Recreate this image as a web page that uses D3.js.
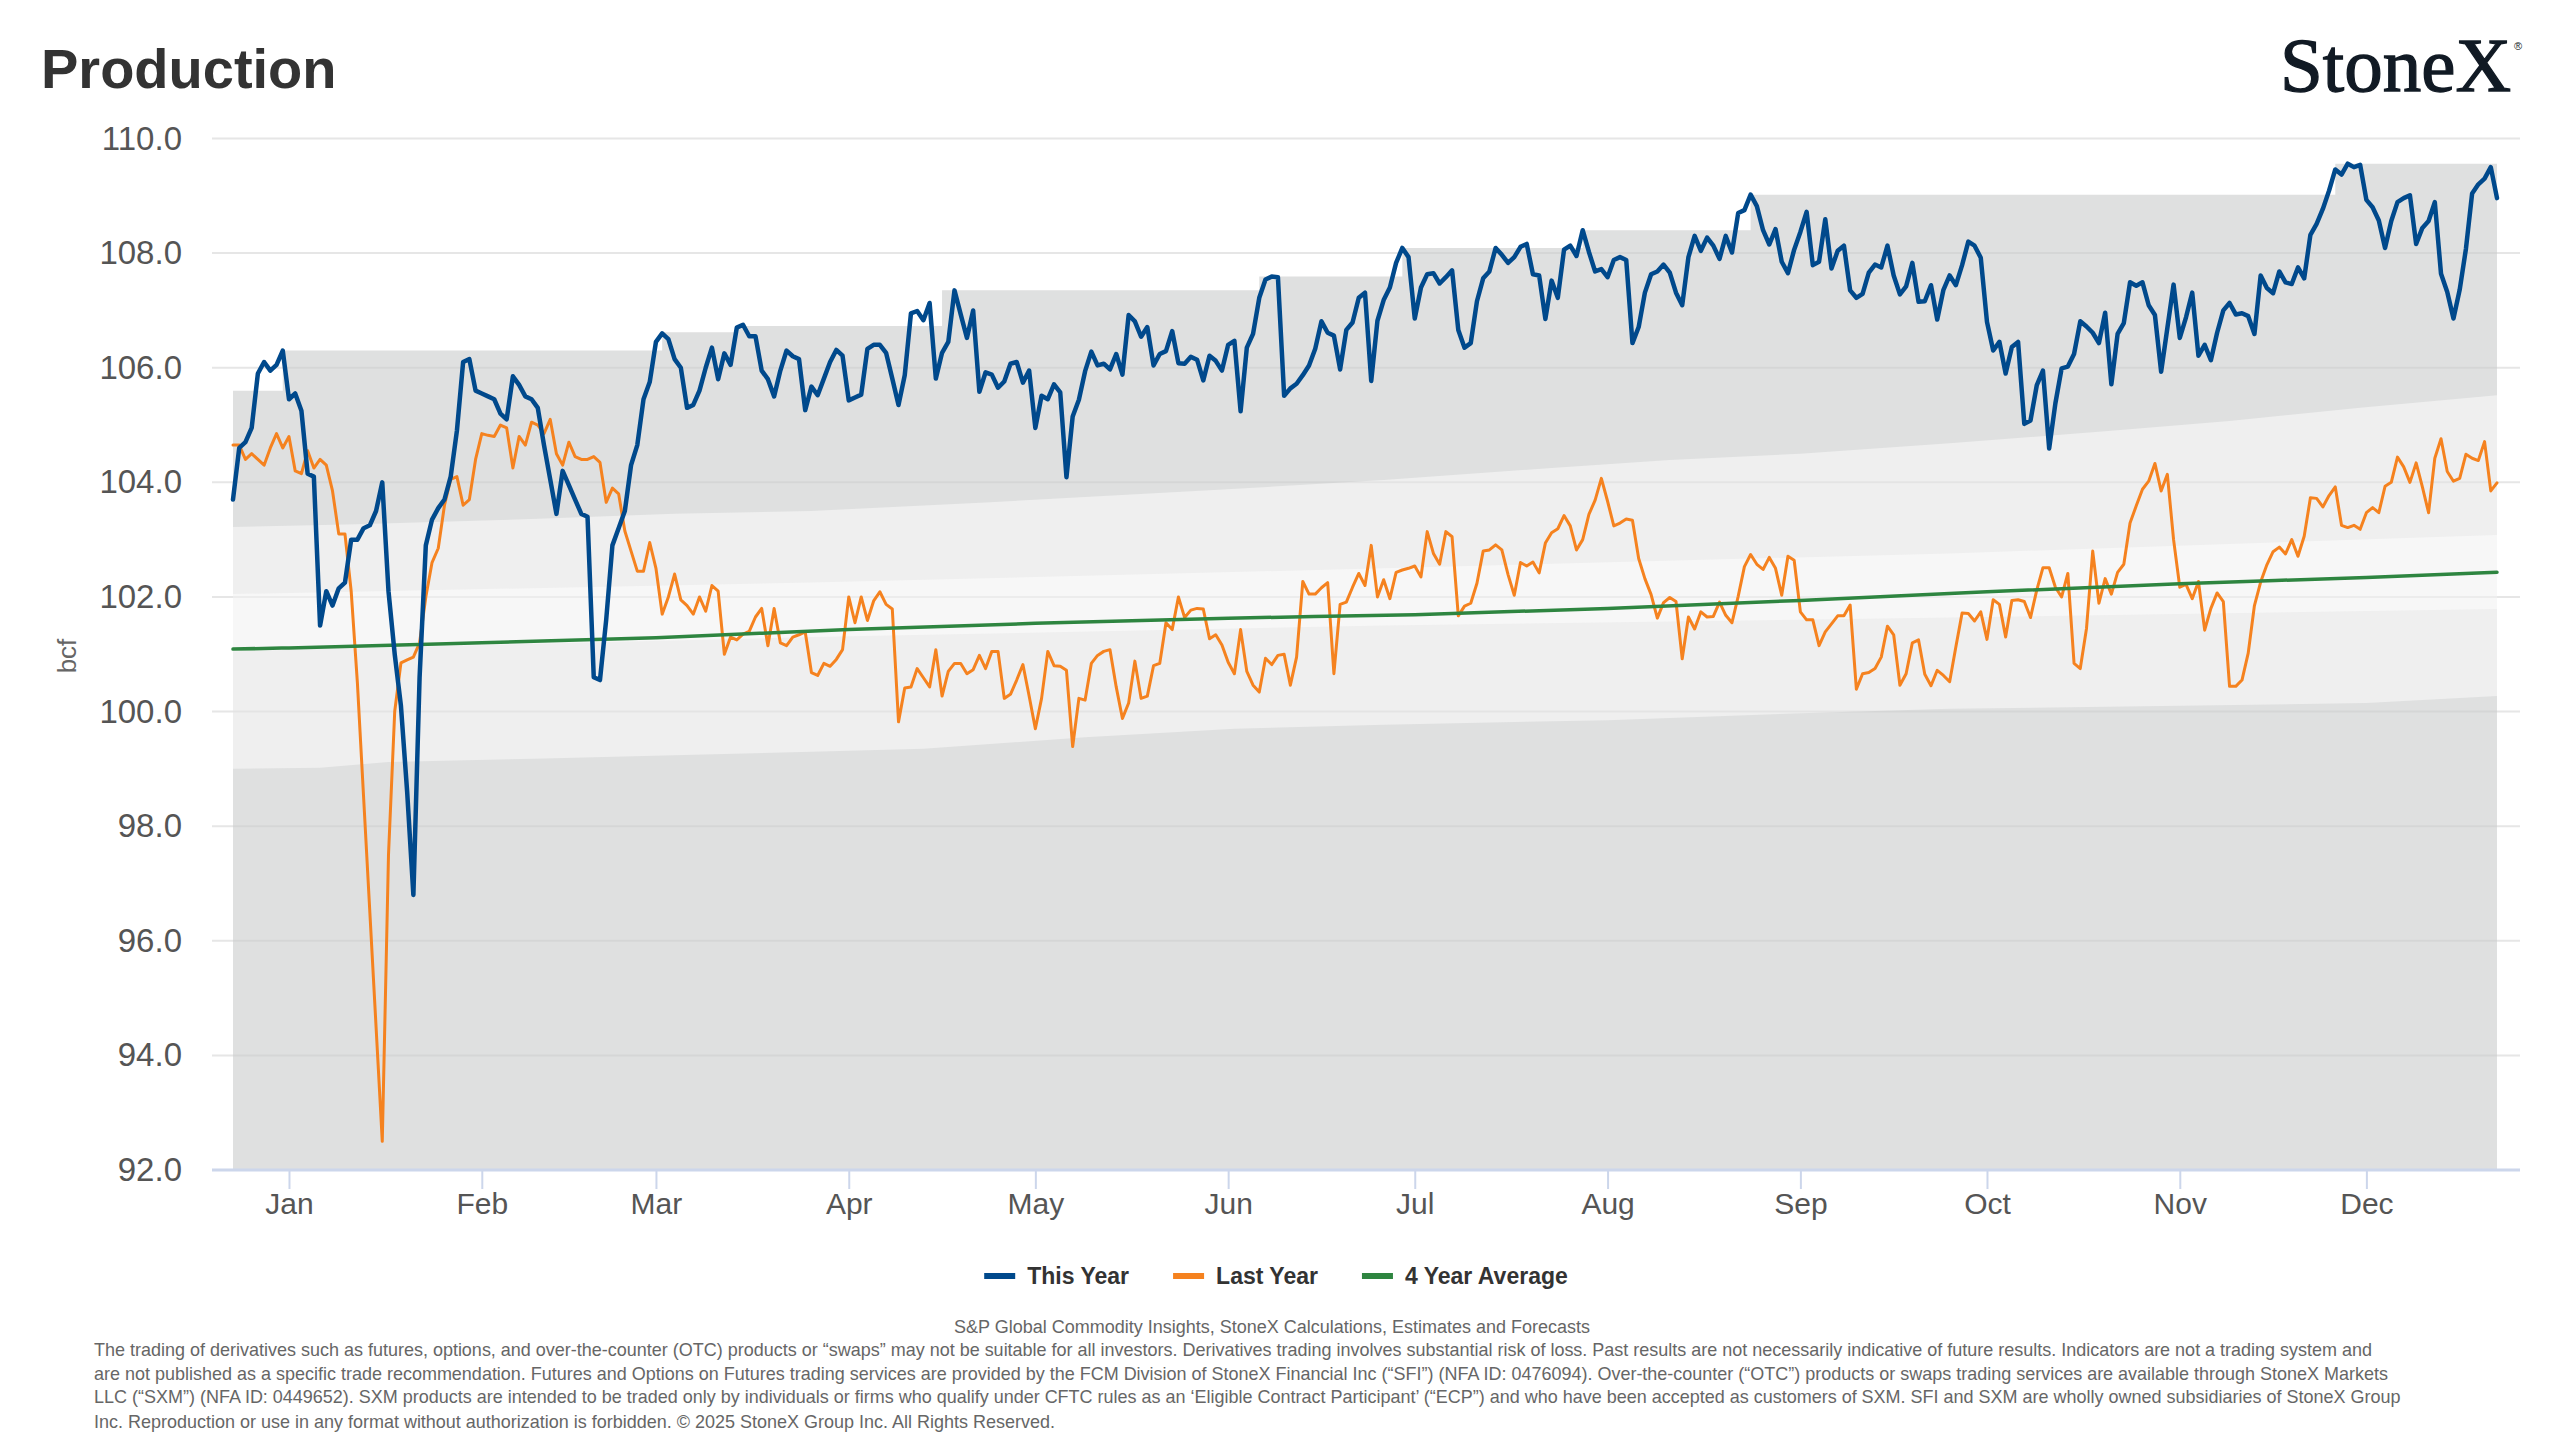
<!DOCTYPE html>
<html>
<head>
<meta charset="utf-8">
<script src="https://cdn.jsdelivr.net/npm/d3@7"></script>
<style>
  body { margin: 0; background: #fff; }
  svg { display: block; font-family: "Liberation Sans", Arial, sans-serif; }
</style>
</head>
<body>
<svg id="chart" width="2560" height="1440"></svg>
<script>
// first day of the rolling window (Dec 23, 2024), one value per day
const startDay = Date.UTC(2024, 11, 23);

const thisYear = [
  103.7, 104.6, 104.7, 104.95, 105.9, 106.1, 105.95, 106.05, 106.3, 105.45,
  105.55, 105.25, 104.15, 104.1, 101.5, 102.1, 101.85, 102.15, 102.25, 103.0,
  103.0, 103.2, 103.25, 103.5, 104.0, 102.1, 101.0, 100.1, 98.6, 96.8,
  100.6, 102.9, 103.35, 103.55, 103.7, 104.1, 104.9, 106.1, 106.15, 105.6,
  105.55, 105.5, 105.45, 105.2, 105.1, 105.85, 105.7, 105.5, 105.45, 105.3,
  104.65, 104.05, 103.45, 104.2, 103.95, 103.7, 103.45, 103.4, 100.6, 100.55,
  101.6, 102.9, 103.2, 103.5, 104.3, 104.65, 105.45, 105.75, 106.45, 106.6,
  106.5, 106.15, 106.0, 105.3, 105.35, 105.6, 106.0, 106.35, 105.8, 106.25,
  106.05, 106.7, 106.75, 106.55, 106.55, 105.95, 105.8, 105.5, 105.95, 106.3,
  106.2, 106.15, 105.26, 105.67, 105.52, 105.81, 106.1, 106.31, 106.21, 105.43,
  105.48, 105.53, 106.33, 106.4, 106.4, 106.26, 105.81, 105.35, 105.87, 106.95,
  106.99, 106.83, 107.13, 105.81, 106.26, 106.45, 107.35, 106.93, 106.52, 107.0,
  105.58, 105.92, 105.88, 105.65, 105.76, 106.07, 106.1, 105.74, 105.95, 104.95,
  105.51, 105.45, 105.71, 105.57, 104.09, 105.15, 105.44, 105.94, 106.28, 106.04,
  106.07, 105.97, 106.24, 105.88, 106.92, 106.81, 106.54, 106.71, 106.04, 106.24,
  106.29, 106.64, 106.08, 106.07, 106.19, 106.14, 105.78, 106.21, 106.12, 105.95,
  106.4, 106.47, 105.24, 106.35, 106.59, 107.22, 107.54, 107.59, 107.58, 105.51,
  105.64, 105.72, 105.87, 106.04, 106.33, 106.81, 106.61, 106.56, 105.97, 106.66,
  106.79, 107.22, 107.31, 105.77, 106.82, 107.18, 107.4, 107.83, 108.09, 107.93,
  106.86, 107.4, 107.63, 107.65, 107.47, 107.58, 107.7, 106.66, 106.35, 106.43,
  107.16, 107.56, 107.68, 108.09, 107.97, 107.83, 107.93, 108.11, 108.16, 107.63,
  107.61, 106.85, 107.52, 107.22, 108.06, 108.13, 107.95, 108.4, 108.02, 107.68,
  107.72, 107.58, 107.88, 107.93, 107.88, 106.43, 106.71, 107.31, 107.63, 107.68,
  107.8, 107.66, 107.31, 107.09, 107.93, 108.3, 108.04, 108.27, 108.13, 107.9,
  108.3, 108.01, 108.7, 108.75, 109.02, 108.82, 108.4, 108.15, 108.42, 107.85,
  107.65, 108.06, 108.37, 108.72, 107.79, 107.85, 108.59, 107.73, 108.04, 108.13,
  107.35, 107.22, 107.29, 107.66, 107.8, 107.75, 108.13, 107.61, 107.28, 107.42,
  107.83, 107.15, 107.16, 107.44, 106.84, 107.36, 107.61, 107.44, 107.79, 108.2,
  108.13, 107.92, 106.8, 106.3, 106.45, 105.9, 106.36, 106.45, 105.02, 105.08,
  105.69, 105.95, 104.59, 105.38, 105.99, 106.02, 106.24, 106.81, 106.72, 106.61,
  106.43, 106.96, 105.71, 106.59, 106.78, 107.49, 107.43, 107.49, 107.09, 106.92,
  105.93, 106.69, 107.45, 106.52, 106.88, 107.31, 106.21, 106.4, 106.13, 106.61,
  107.0, 107.13, 106.93, 106.95, 106.9, 106.59, 107.61, 107.39, 107.3, 107.68,
  107.49, 107.46, 107.75, 107.56, 108.32, 108.51, 108.77, 109.09, 109.46, 109.37,
  109.56, 109.5, 109.54, 108.93, 108.8, 108.57, 108.09, 108.56, 108.89, 108.96,
  109.01, 108.16, 108.44, 108.56, 108.89, 107.64, 107.32, 106.86, 107.36, 108.07,
  109.04, 109.2, 109.3, 109.5, 108.96
];

const lastYear = [
  104.65, 104.65, 104.4, 104.5, 104.4, 104.3, 104.6, 104.85, 104.6, 104.8,
  104.2, 104.15, 104.55, 104.25, 104.4, 104.3, 103.85, 103.1, 103.1, 102.1,
  100.5, 98.5, 96.5, 94.5, 92.5, 97.5, 100.0, 100.85, 100.9, 100.95,
  101.2, 102.0, 102.6, 102.85, 103.6, 104.05, 104.1, 103.6, 103.7, 104.4,
  104.85, 104.82, 104.8, 105.0, 104.95, 104.25, 104.8, 104.65, 105.05, 105.0,
  104.85, 105.1, 104.5, 104.3, 104.7, 104.45, 104.4, 104.4, 104.45, 104.35,
  103.65, 103.9, 103.8, 103.15, 102.8, 102.45, 102.45, 102.95, 102.5, 101.7,
  102.0, 102.4, 101.95, 101.85, 101.7, 102.0, 101.75, 102.2, 102.1, 101.0,
  101.3, 101.25, 101.35, 101.4, 101.65, 101.8, 101.15, 101.8, 101.2, 101.15,
  101.3, 101.34, 101.39, 100.68, 100.63, 100.84, 100.79, 100.91, 101.08, 102.0,
  101.55, 102.0, 101.59, 101.93, 102.09, 101.87, 101.79, 99.82, 100.41, 100.43,
  100.75, 100.59, 100.43, 101.08, 100.27, 100.7, 100.84, 100.84, 100.66, 100.73,
  100.98, 100.75, 101.05, 101.05, 100.23, 100.3, 100.55, 100.82, 100.27, 99.7,
  100.23, 101.05, 100.8, 100.79, 100.72, 99.39, 100.23, 100.2, 100.84, 100.98,
  101.05, 101.08, 100.43, 99.88, 100.15, 100.88, 100.23, 100.27, 100.8, 100.84,
  101.55, 101.43, 102.0, 101.64, 101.77, 101.8, 101.79, 101.27, 101.34, 101.16,
  100.86, 100.66, 101.43, 100.7, 100.46, 100.34, 100.93, 100.82, 100.98, 101.0,
  100.46, 100.95, 102.27, 102.05, 102.05, 102.16, 102.25, 100.66, 101.87, 101.91,
  102.17, 102.41, 102.2, 102.9, 102.0, 102.3, 101.97, 102.43, 102.47, 102.5,
  102.54, 102.35, 103.14, 102.76, 102.57, 103.14, 103.05, 101.67, 101.84, 101.89,
  102.24, 102.8, 102.82, 102.91, 102.82, 102.39, 102.03, 102.6, 102.54, 102.61,
  102.42, 102.94, 103.12, 103.19, 103.42, 103.24, 102.82, 103.0, 103.44, 103.69,
  104.07, 103.67, 103.24, 103.29, 103.36, 103.34, 102.67, 102.32, 102.04, 101.63,
  101.9, 101.99, 101.92, 100.92, 101.65, 101.44, 101.74, 101.65, 101.66, 101.91,
  101.68, 101.55, 102.01, 102.53, 102.74, 102.57, 102.48, 102.69, 102.5, 102.03,
  102.71, 102.64, 101.74, 101.6, 101.6, 101.15, 101.39, 101.53, 101.67, 101.67,
  101.86, 100.39, 100.66, 100.68, 100.75, 100.95, 101.49, 101.34, 100.46, 100.66,
  101.2, 101.25, 100.65, 100.45, 100.72, 100.63, 100.52, 101.13, 101.72, 101.71,
  101.58, 101.74, 101.26, 101.95, 101.87, 101.3, 101.94, 101.95, 101.92, 101.64,
  102.12, 102.51, 102.51, 102.17, 102.0, 102.41, 100.84, 100.75, 101.45, 102.8,
  101.89, 102.32, 102.05, 102.43, 102.57, 103.29, 103.59, 103.88, 104.02, 104.33,
  103.85, 104.14, 103.0, 102.17, 102.22, 101.97, 102.27, 101.42, 101.8, 102.07,
  101.92, 100.44, 100.44, 100.55, 101.02, 101.85, 102.26, 102.56, 102.79, 102.87,
  102.75, 103.0, 102.71, 103.06, 103.73, 103.72, 103.57, 103.77, 103.92, 103.25,
  103.21, 103.25, 103.18, 103.47, 103.56, 103.47, 103.93, 104.0, 104.44, 104.27,
  104.0, 104.34, 103.92, 103.47, 104.42, 104.76, 104.19, 104.02, 104.07, 104.49,
  104.42, 104.38, 104.71, 103.85, 103.99
];

// 4 year average (day offset -> value)
const avgDays   = [0, 9, 40, 68, 99, 129, 160, 190, 221, 252, 282, 313, 343, 364];
const avgValues = [101.09, 101.11, 101.2, 101.29, 101.43, 101.54, 101.63, 101.69, 101.8, 101.94, 102.09, 102.23, 102.34, 102.43];

// shaded range bands
const maxDays   = [0, 8, 69, 81, 114, 165, 188, 217, 244, 338, 364];
const maxValues = [105.6, 106.3, 106.62, 106.73, 107.35, 107.59, 108.09, 108.4, 109.02, 109.56, 109.56];
const upperDays   = [0, 20, 48, 71, 93, 121, 157, 185, 212, 231, 252, 276, 302, 321, 342, 364];
const upperValues = [103.22, 103.27, 103.36, 103.45, 103.5, 103.65, 103.86, 104.04, 104.25, 104.39, 104.5, 104.68, 104.9, 105.07, 105.3, 105.52];
const midDays        = [0, 93, 185, 276, 364];
const midTopValues   = [102.05, 102.25, 102.5, 102.76, 103.08];
const midBotValues   = [101.05, 101.3, 101.5, 101.64, 101.79];
const lowerDays   = [0, 14, 25, 50, 93, 111, 137, 161, 185, 221, 252, 276, 313, 343, 364];
const lowerValues = [99.0, 99.02, 99.12, 99.18, 99.3, 99.35, 99.55, 99.7, 99.77, 99.85, 99.97, 100.05, 100.1, 100.15, 100.27];

const yTicks = [92, 94, 96, 98, 100, 102, 104, 106, 108, 110];
const monthLabels = ["Jan", "Feb", "Mar", "Apr", "May", "Jun", "Jul", "Aug", "Sep", "Oct", "Nov", "Dec"];
const seriesNames = ["This Year", "Last Year", "4 Year Average"];
const seriesColors = ["#00498c", "#f5821f", "#2e8540"];

const sourceText = "S&P Global Commodity Insights, StoneX Calculations, Estimates and Forecasts";
const disclaimer = [
  "The trading of derivatives such as futures, options, and over-the-counter (OTC) products or \u201cswaps\u201d may not be suitable for all investors. Derivatives trading involves substantial risk of loss. Past results are not necessarily indicative of future results. Indicators are not a trading system and",
  "are not published as a specific trade recommendation. Futures and Options on Futures trading services are provided by the FCM Division of StoneX Financial Inc (\u201cSFI\u201d) (NFA ID: 0476094). Over-the-counter (\u201cOTC\u201d) products or swaps trading services are available through StoneX Markets",
  "LLC (\u201cSXM\u201d) (NFA ID: 0449652). SXM products are intended to be traded only by individuals or firms who qualify under CFTC rules as an \u2018Eligible Contract Participant\u2019 (\u201cECP\u201d) and who have been accepted as customers of SXM. SFI and SXM are wholly owned subsidiaries of StoneX Group",
  "Inc. Reproduction or use in any format without authorization is forbidden. \u00a9 2025 StoneX Group Inc. All Rights Reserved."
];

// ---------------------------------------------------------------
const day = i => new Date(startDay + i * 864e5);

const plotLeft = 212, plotRight = 2520;
const x = d3.scaleUtc().domain([day(0), day(364)]).range([233, 2497]);
const y = d3.scaleLinear().domain([92, 110]).range([1170, 138.5]);

const svg = d3.select("#chart");
svg.append("rect").attr("width", 2560).attr("height", 1440).attr("fill", "#fff");

// title + logo
svg.append("text").attr("x", 41).attr("y", 88)
  .attr("font-size", 56).attr("font-weight", "bold").attr("fill", "#333")
  .text("Production");
svg.append("text").attr("x", 2511).attr("y", 91)
  .attr("text-anchor", "end").attr("font-family", "'Liberation Serif', 'DejaVu Serif', serif")
  .attr("font-size", 77).attr("fill", "#111a24")
  .attr("stroke", "#111a24").attr("stroke-width", 1.3)
  .text("StoneX");
svg.append("text").attr("x", 2514).attr("y", 50)
  .attr("font-size", 11).attr("fill", "#111a24").text("\u00ae");

// gridlines under the bands (visible on white)
const grid = svg.append("g");
grid.selectAll("line").data(yTicks).enter().append("line")
  .attr("x1", plotLeft).attr("x2", plotRight)
  .attr("y1", d => y(d)).attr("y2", d => y(d))
  .attr("stroke", "#e6e6e6").attr("stroke-width", 2);

// bands
const pts = (days, vals) => days.map((d, i) => [x(day(d)), y(vals[i])]);
const bandPath = (topD, topV, botD, botV) =>
  d3.line()(pts(topD, topV).concat(pts(botD, botV).reverse())) + "Z";

const maxArea = d3.area().curve(d3.curveStepAfter)
  .x((d, i) => x(day(maxDays[i])))
  .y0(y(92))
  .y1(d => y(d));
const darkPath = maxArea(maxValues);

svg.append("defs").append("clipPath").attr("id", "bandClip")
  .append("path").attr("d", darkPath);

const bands = svg.append("g");
bands.append("path").attr("d", darkPath).attr("fill", "#dfe0e0");
bands.append("path").attr("d", bandPath(upperDays, upperValues, lowerDays, lowerValues)).attr("fill", "#efefef");
bands.append("path").attr("d", bandPath(midDays, midTopValues, midDays, midBotValues)).attr("fill", "#f7f7f7");

// gridlines over the bands
svg.append("g").attr("clip-path", "url(#bandClip)")
  .selectAll("line").data(yTicks).enter().append("line")
  .attr("x1", plotLeft).attr("x2", plotRight)
  .attr("y1", d => y(d)).attr("y2", d => y(d))
  .attr("stroke", "#000").attr("stroke-opacity", 0.045).attr("stroke-width", 2);

// y axis labels
const yAxis = d3.axisLeft(y).tickValues(yTicks).tickFormat(d3.format(".1f"))
  .tickSize(0).tickPadding(8);
const yg = svg.append("g").attr("transform", "translate(190,0)").call(yAxis);
yg.select(".domain").remove();
yg.selectAll("text").attr("font-size", 33).attr("fill", "#555")
  .attr("font-family", "'Liberation Sans', Arial, sans-serif");

svg.append("text")
  .attr("transform", "translate(76,656) rotate(-90)")
  .attr("text-anchor", "middle").attr("font-size", 26).attr("fill", "#666")
  .text("bcf");

// x axis
const monthDates = monthLabels.map((m, i) => new Date(Date.UTC(2025, i, 1)));
const xAxis = d3.axisBottom(x).tickValues(monthDates)
  .tickFormat((d, i) => monthLabels[i]).tickSize(19).tickPadding(4);
const xg = svg.append("g").attr("transform", "translate(0,1170)").call(xAxis);
xg.select(".domain").remove();
xg.selectAll(".tick line").attr("stroke", "#ccd6eb").attr("stroke-width", 2);
xg.selectAll("text").attr("font-size", 30).attr("fill", "#555")
  .attr("font-family", "'Liberation Sans', Arial, sans-serif");
svg.append("line").attr("x1", plotLeft).attr("x2", plotRight)
  .attr("y1", 1170).attr("y2", 1170)
  .attr("stroke", "#ccd6eb").attr("stroke-width", 3);

// series
const dailyLine = d3.line().x((d, i) => x(day(i))).y(d => y(d));
const avgLine = d3.line().curve(d3.curveMonotoneX)
  .x((d, i) => x(day(avgDays[i]))).y(d => y(d));

const lines = svg.append("g").attr("fill", "none")
  .attr("stroke-linejoin", "round").attr("stroke-linecap", "round");
lines.append("path").attr("d", dailyLine(lastYear))
  .attr("stroke", seriesColors[1]).attr("stroke-width", 3);
lines.append("path").attr("d", avgLine(avgValues))
  .attr("stroke", seriesColors[2]).attr("stroke-width", 3.5);
lines.append("path").attr("d", dailyLine(thisYear))
  .attr("stroke", seriesColors[0]).attr("stroke-width", 4.5);

// legend
const legend = svg.append("g");
let lx = 0;
seriesNames.forEach((name, i) => {
  const item = legend.append("g").attr("transform", `translate(${lx},0)`);
  item.append("rect").attr("x", 0).attr("y", 1273).attr("width", 31).attr("height", 6)
    .attr("fill", seriesColors[i]);
  const t = item.append("text").attr("x", 43).attr("y", 1284)
    .attr("font-size", 23).attr("font-weight", "bold").attr("fill", "#333").text(name);
  lx += 43 + t.node().getComputedTextLength() + 44;
});
const legendWidth = lx - 44;
legend.attr("transform", `translate(${1276 - legendWidth / 2},0)`);

// footer
svg.append("text").attr("x", 1272).attr("y", 1333).attr("text-anchor", "middle")
  .attr("font-size", 18).attr("fill", "#666").text(sourceText);

const probe = svg.append("text").attr("font-size", 18).text(disclaimer[0]);
const fs = 18 * 2279 / probe.node().getComputedTextLength();
probe.remove();
const footY = [1356, 1380, 1403, 1428];
svg.append("g").selectAll("text").data(disclaimer).enter().append("text")
  .attr("x", 94).attr("y", (d, i) => footY[i])
  .attr("font-size", fs).attr("fill", "#666").text(d => d);
</script>
</body>
</html>
